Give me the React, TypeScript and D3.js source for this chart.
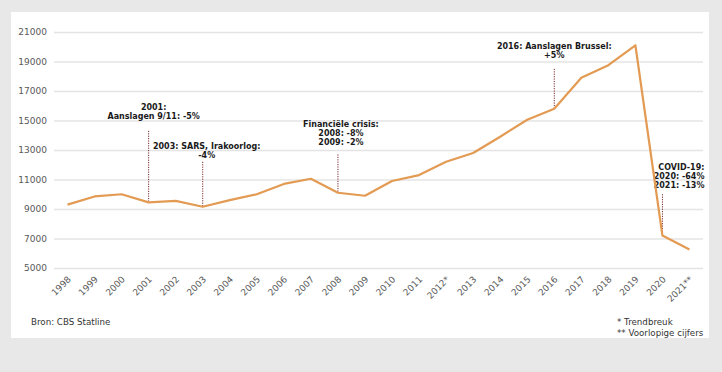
import { useEffect, useRef } from "react";
import { axisLeft, line, scaleLinear, scalePoint, select } from "d3";

const years = [
  "1998", "1999", "2000", "2001", "2002", "2003", "2004", "2005", "2006", "2007",
  "2008", "2009", "2010", "2011", "2012*", "2013", "2014", "2015", "2016", "2017",
  "2018", "2019", "2020", "2021**",
];
const visitors = [
  9300, 9850, 10000, 9450, 9550, 9150, 9600, 10000, 10700, 11050,
  10100, 9900, 10900, 11300, 12200, 12800, 13900, 15050, 15800, 17900,
  18750, 20100, 7200, 6250,
];
const yTicks = [5000, 7000, 9000, 11000, 13000, 15000, 17000, 19000, 21000];

// annotation: which year, where the dotted line starts (in data units), text lines
const noteYears = ["2001", "2003", "2008", "2016", "2020"];
const noteTops = [14300, 12200, 12700, 18500, 10000];
const noteTexts = [
  ["2001:", "Aanslagen 9/11: -5%"],
  ["2003: SARS, Irakoorlog:", "-4%"],
  ["Financiële crisis:", "2008: -8%", "2009: -2%"],
  ["2016: Aanslagen Brussel:", "+5%"],
  ["COVID-19:", "2020: -64%", "2021: -13%"],
];

const W = 722;
const H = 372;
const margin = { top: 32, right: 19, bottom: 104, left: 54 };
const lineColor = "#e39a52";
const font = "'DejaVu Sans', Verdana, sans-serif";

function AxisLeft({ scale, width }: { scale: any; width: number }) {
  const ref = useRef<SVGGElement>(null);
  useEffect(() => {
    if (ref.current) {
      const g = select(ref.current);
      g.call(axisLeft(scale).tickValues(yTicks).tickSize(-width).tickPadding(7).tickFormat((d: any) => String(d)));
      g.select(".domain").remove();
      g.selectAll(".tick line").attr("stroke", "#e4e4e4").attr("stroke-width", 1.3);
      g.selectAll(".tick text")
        .attr("fill", "#595959")
        .attr("font-size", 9)
        .attr("font-family", font);
    }
  }, [scale, width]);
  return <g ref={ref} />;
}

export default function App() {
  const width = W - margin.left - margin.right;
  const height = H - margin.top - margin.bottom;

  const x = scalePoint<string>().domain(years).range([0, width]).padding(0.5);
  const y = scaleLinear().domain([5000, 21000]).range([height, 0]);

  const path = line<number>()
    .x((_, i) => x(years[i]) as number)
    .y((d) => y(d))(visitors);

  // text offsets, relative to the top of the dotted line
  const noteDx = [5, 4, 3, 0, 42];
  const noteDy = [-21, -13, -27, -20, -24];
  const lh = 8.8;

  return (
    <svg
      width={W}
      height={H}
      style={{ position: "fixed", left: 0, top: 0, background: "#e8e8e8" }}
    >
      <rect x={11} y={12} width={698} height={326} fill="#ffffff" />
      <g transform={`translate(${margin.left}, ${margin.top})`}>
        <AxisLeft scale={y} width={width} />
        {noteYears.map((yr, k) => {
          const i = years.indexOf(yr);
          const px = x(years[i]) as number;
          const top = y(noteTops[k]);
          const anchor = k === 4 ? "end" : "middle";
          return (
            <g key={yr}>
              <line
                x1={px}
                x2={px}
                y1={top}
                y2={y(visitors[i])}
                stroke="#7a2a2a"
                strokeWidth={1}
                strokeDasharray="1.2,1.2"
              />
              {noteTexts[k].map((t, j) => (
                <text
                  key={j}
                  x={px + noteDx[k]}
                  y={top + noteDy[k] + j * lh}
                  textAnchor={anchor}
                  fontFamily={font}
                  fontWeight="bold"
                  fontSize={8}
                  fill="#1a1a1a"
                >
                  {t}
                </text>
              ))}
            </g>
          );
        })}
        <path d={path ?? ""} fill="none" stroke={lineColor} strokeWidth={2.2} strokeLinejoin="round" />
        {years.map((yr) => (
          <text
            key={yr}
            transform={`translate(${(x(yr) as number) + 4}, ${height + 12}) rotate(-45)`}
            textAnchor="end"
            fontFamily={font}
            fontSize={9}
            fill="#595959"
          >
            {yr}
          </text>
        ))}
      </g>
      <text x={31} y={325} fontFamily={font} fontSize={8.7} fill="#333">
        Bron: CBS Statline
      </text>
      <text x={617} y={325} fontFamily={font} fontSize={8.7} fill="#333">
        * Trendbreuk
      </text>
      <text x={617} y={336} fontFamily={font} fontSize={8.7} fill="#333">
        ** Voorlopige cijfers
      </text>
    </svg>
  );
}
